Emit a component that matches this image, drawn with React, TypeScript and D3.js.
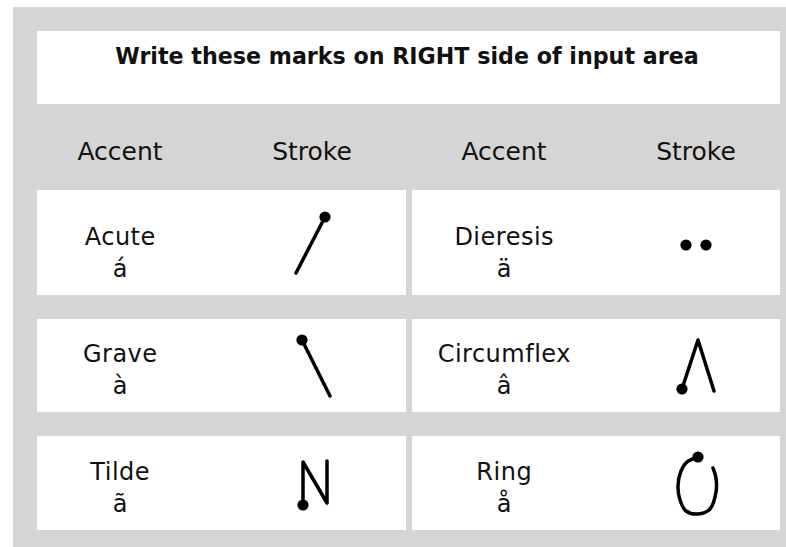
import { useEffect, useRef } from "react";
import * as d3 from "d3";

const title = "Write these marks on RIGHT side of input area";
const headers = ["Accent", "Stroke", "Accent", "Stroke"];

// accent names and letters, read left column then right column per row
const accentNames = ["Acute", "Dieresis", "Grave", "Circumflex", "Tilde", "Ring"];
const accentLetters = ["á", "ä", "à", "â", "ã", "å"];

// stroke shapes in cell units (x from the stroke column centre, y up from row bottom)
const acuteLine: [number, number][] = [[13, -78], [-16, -22]];
const graveLine: [number, number][] = [[-10, -72], [18, -16]];
const tildeLine: [number, number][] = [[-9, -25], [-9, -68], [15, -27], [15, -69]];
const dieresisLine: [number, number][] = [];
const circumflexLine: [number, number][] = [[-14, -23], [2, -72], [18, -21]];
const ringLine: [number, number][] = [
  [2, -73], [-9, -68], [-15, -59], [-18, -44], [-16, -30], [-10, -19],
  [2, -16], [14, -21], [20, -38], [20, -52], [17, -62],
];

const strokeLines = [acuteLine, dieresisLine, graveLine, circumflexLine, tildeLine, ringLine];
const strokeDots: [number, number][][] = [
  [[13, -78]],
  [[-10, -50], [10, -50]],
  [[-10, -72]],
  [[-14, -23]],
  [[-9, -25]],
  [[2, -73]],
];
const strokeCurved = [false, false, false, false, false, true];

const W = 786;
const H = 547;
const GRAY = "#d5d5d5";
const FONT = "'DejaVu Sans', Verdana, sans-serif";

export default function App() {
  const svgRef = useRef<SVGSVGElement>(null);

  useEffect(() => {
    const svg = d3.select(svgRef.current);
    svg.selectAll("*").remove();

    const left = 37;
    const right = 780;
    const split = [406, 412];
    const rowTops = [190, 319, 436];
    const rowBottoms = [295, 412, 530];

    svg.append("rect").attr("width", W).attr("height", H).attr("fill", "white");
    svg.append("rect").attr("x", 13).attr("y", 7).attr("width", W - 13).attr("height", H - 7).attr("fill", GRAY);

    // title box
    svg.append("rect").attr("x", left).attr("y", 31).attr("width", right - left).attr("height", 73).attr("fill", "white");
    svg
      .append("text")
      .attr("x", 407)
      .attr("y", 64)
      .attr("text-anchor", "middle")
      .attr("font-family", FONT)
      .attr("font-weight", "bold")
      .attr("font-size", 22.2)
      .attr("fill", "#111")
      .text(title);

    const colX = d3.scalePoint<number>().domain([0, 1, 2, 3]).range([120, 696]);

    svg
      .selectAll("text.head")
      .data(headers)
      .join("text")
      .attr("class", "head")
      .attr("x", (_, i) => colX(i)!)
      .attr("y", 160)
      .attr("text-anchor", "middle")
      .attr("font-family", FONT)
      .attr("font-size", 25)
      .attr("fill", "#111")
      .text((d) => d);

    accentNames.forEach((name, i) => {
      const row = Math.floor(i / 2);
      const side = i % 2;
      const top = rowTops[row];
      const bottom = rowBottoms[row];
      const x0 = side === 0 ? left : split[1];
      const x1 = side === 0 ? split[0] : right;

      svg.append("rect").attr("x", x0).attr("y", top).attr("width", x1 - x0).attr("height", bottom - top).attr("fill", "white");

      const tx = colX(side * 2)! + 0.25;
      const lines = [name, accentLetters[i]];
      lines.forEach((t, k) => {
        svg
          .append("text")
          .attr("x", tx)
          .attr("y", bottom - 50 + k * 32)
          .attr("text-anchor", "middle")
          .attr("font-family", FONT)
          .attr("font-size", 24)
          .attr("letter-spacing", 0.5)
          .attr("fill", "#111")
          .text(t);
      });

      const cx = colX(side * 2 + 1)!;
      const gx = d3.scaleLinear().domain([-50, 50]).range([cx - 50, cx + 50]);
      const gy = d3.scaleLinear().domain([-100, 0]).range([bottom - 100, bottom]);

      const shape = strokeLines[i];
      if (shape.length) {
        const line = d3
          .line<[number, number]>()
          .x((d) => gx(d[0]))
          .y((d) => gy(d[1]))
          .curve(strokeCurved[i] ? d3.curveCatmullRom.alpha(0.5) : d3.curveLinear);
        svg
          .append("path")
          .datum(shape)
          .attr("d", line)
          .attr("fill", "none")
          .attr("stroke", "#000")
          .attr("stroke-width", 3.5)
          .attr("stroke-linecap", "round")
          .attr("stroke-linejoin", "round");
      }

      svg
        .selectAll(null)
        .data(strokeDots[i])
        .join("circle")
        .attr("cx", (d) => gx(d[0]))
        .attr("cy", (d) => gy(d[1]))
        .attr("r", 5.6)
        .attr("fill", "#000");
    });
  }, []);

  return (
    <svg
      ref={svgRef}
      width={W}
      height={H}
      style={{ position: "absolute", left: 0, top: 0, display: "block" }}
    />
  );
}
